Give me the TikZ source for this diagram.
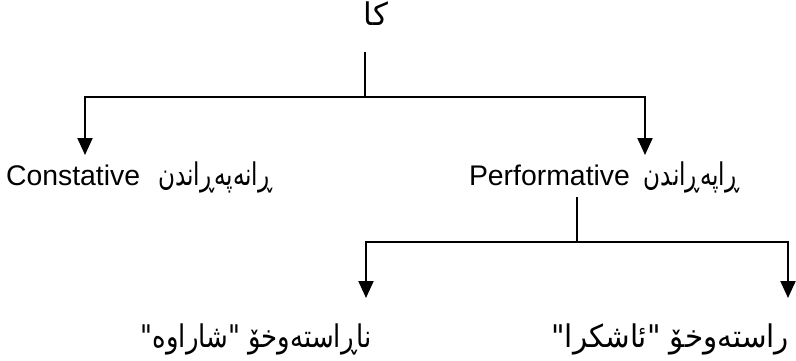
\documentclass[tikz,border=0pt]{standalone}
\usepackage{fontspec}
\setmainfont{Liberation Sans}
\newfontfamily\arabicfont[Script=Arabic,Scale=1.1]{DejaVu Sans}
\newfontfamily\arabicnarrow[Script=Arabic,Scale=1.1,FakeStretch=0.74]{DejaVu Sans}
\newfontfamily\arabicmid[Script=Arabic,Scale=1.1,FakeStretch=0.83]{DejaVu Sans}
\newfontfamily\arabicwide[Script=Arabic,Scale=1.1,FakeStretch=0.94]{DejaVu Sans}
\TeXXeTstate=1
\usetikzlibrary{arrows.meta}
\begin{document}
\begin{tikzpicture}[x=1bp,y=-1bp, line width=2bp,
  lbl/.style={inner sep=0pt, font=\fontsize{28.5}{34}\selectfont},
  arr/.style={-{Triangle[length=17bp,width=15bp]}}]
\useasboundingbox (0,0) rectangle (796,360);
\node[lbl,anchor=base] (top) at (376,25) {\arabicfont\beginR کا\endR};
\node[lbl,anchor=base west] (cons) at (5,185) {Constative\hspace{18bp}\arabicnarrow\beginR ڕانەپەڕاندن\endR};
\node[lbl,anchor=base west] (perf) at (468,185) {Performative\hspace{14bp}\arabicnarrow\beginR ڕاپەڕاندن\endR};
\node[lbl,anchor=base east] (ind) at (373,347) {\arabicmid\beginR ناڕاستەوخۆ "شاراوە"\endR};
\node[lbl,anchor=base east] (dir) at (790,347) {\arabicwide\beginR راستەوخۆ "ئاشکرا"\endR};
\coordinate (t1) at (365,52);
\coordinate (j1) at (365,97);
\coordinate (c1) at (85,155);
\coordinate (p1) at (645,155);
\coordinate (t2) at (577,197);
\coordinate (j2) at (577,242);
\coordinate (i1) at (366,298);
\coordinate (d1) at (788,298);
\draw (t1) -- (j1);
\draw[arr] (j1) -| (c1);
\draw[arr] (j1) -| (p1);
\draw (t2) -- (j2);
\draw[arr] (j2) -| (i1);
\draw[arr] (j2) -| (d1);
\end{tikzpicture}
\end{document}
